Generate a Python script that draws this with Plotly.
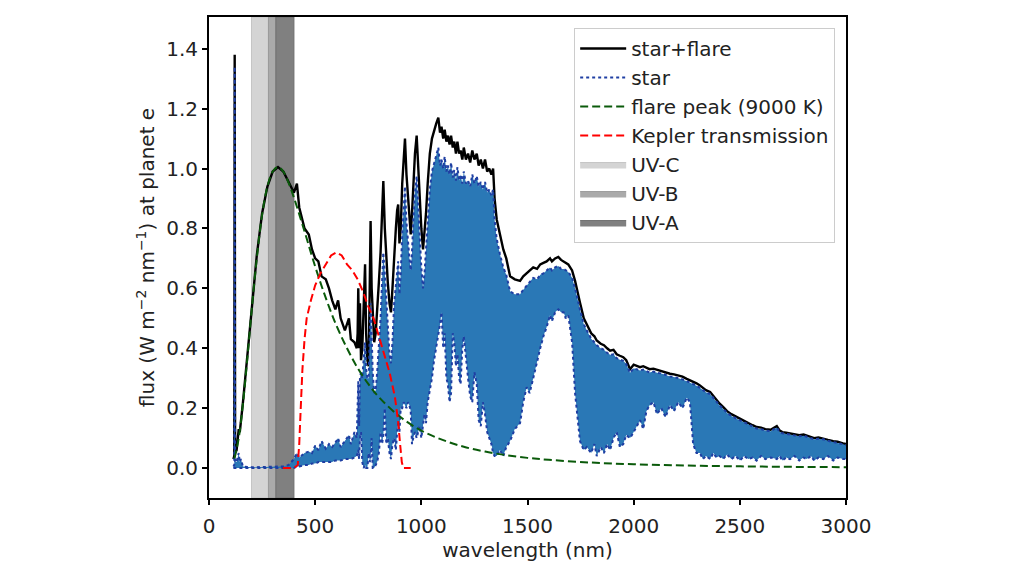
import plotly.graph_objects as go

# ---------------- data ----------------
# Spectrum split in three wavelength segments: UV/visible, TiO/near-IR bands, IR tail.
# For each: wavelength (nm), star+flare, star upper envelope, star lower envelope.

wl_a = [115, 119, 121, 123, 130, 140, 145, 150, 160, 180, 200, 225, 250, 275, 300, 325, 350, 375,
        400, 414, 425, 450, 470, 485, 500, 515, 530, 550, 565, 580, 595, 608, 620, 640, 659, 668]
sf_a = [0.03, 0.04, 1.38, 0.05, 0.06, 0.13, 0.12, 0.16, 0.22, 0.37, 0.53, 0.71, 0.85, 0.94, 0.99, 1.005, 0.99, 0.955,
        0.92, 0.95, 0.87, 0.80, 0.78, 0.73, 0.70, 0.69, 0.64, 0.63, 0.60, 0.56, 0.53, 0.56, 0.50, 0.46, 0.50, 0.43]
hi_a = [0.005, 0.01, 1.34, 0.02, 0.02, 0.05, 0.02, 0.03, 0.005, 0.003, 0.003, 0.003, 0.003, 0.003, 0.004, 0.005, 0.006, 0.01,
        0.03, 0.05, 0.035, 0.05, 0.055, 0.05, 0.075, 0.06, 0.09, 0.065, 0.08, 0.07, 0.085, 0.10, 0.07, 0.09, 0.11, 0.08]
lo_a = [0.0, 0.0, 0.0, 0.0, 0.0, 0.0, 0.0, 0.0, 0.0, 0.0, 0.0, 0.0, 0.0, 0.0, 0.0, 0.0, 0.0, 0.0,
        0.0, 0.005, 0.005, 0.01, 0.01, 0.015, 0.015, 0.02, 0.02, 0.02, 0.02, 0.02, 0.025, 0.025, 0.025, 0.03, 0.03, 0.03]

wl_b = [685, 696, 700, 703, 707, 711, 716, 722, 728, 735, 740, 746, 752, 758, 761, 766, 771, 778, 785, 792,
        800, 808, 815, 821, 828, 835, 842, 850, 857, 864, 872, 880, 886, 891, 897, 903, 910, 917, 923, 930,
        937, 944, 950, 956, 962, 970, 978, 985, 992, 1000, 1008, 1015, 1022, 1030, 1040, 1050, 1060, 1070,
        1080, 1088, 1095, 1103, 1110, 1118, 1125, 1133, 1140, 1148, 1155, 1163, 1170, 1178, 1185, 1193,
        1200, 1210, 1220, 1230, 1240, 1250, 1261, 1270, 1280, 1290, 1300, 1310, 1320, 1330, 1338, 1345,
        1355, 1370, 1386, 1400, 1418, 1440]
sf_b = [0.42, 0.40, 0.45, 0.60, 0.40, 0.55, 0.36, 0.40, 0.55, 0.68, 0.45, 0.36, 0.34, 0.70, 0.825, 0.60, 0.50, 0.42, 0.45, 0.55,
        0.62, 0.72, 0.85, 0.958, 0.80, 0.70, 0.62, 0.55, 0.52, 0.60, 0.72, 0.80, 0.86, 0.88, 0.75, 0.80, 0.95, 1.05, 1.10, 0.98,
        0.90, 0.82, 0.78, 0.85, 0.95, 1.05, 1.11, 1.00, 0.90, 0.80, 0.73, 0.78, 0.85, 0.95, 1.05, 1.10, 1.13, 1.15,
        1.17, 1.12, 1.14, 1.10, 1.13, 1.09, 1.11, 1.08, 1.11, 1.07, 1.09, 1.05, 1.09, 1.05, 1.06, 1.03,
        1.07, 1.03, 1.05, 1.02, 1.06, 1.03, 1.05, 1.01, 1.03, 1.00, 1.03, 0.99, 1.00, 0.98, 1.00, 0.90,
        0.83, 0.78, 0.73, 0.70, 0.64, 0.63]
hi_b = [0.12, 0.10, 0.20, 0.29, 0.14, 0.30, 0.32, 0.30, 0.36, 0.42, 0.33, 0.30, 0.30, 0.50, 0.55, 0.45, 0.32, 0.25, 0.26, 0.32,
        0.40, 0.50, 0.62, 0.72, 0.65, 0.55, 0.45, 0.38, 0.35, 0.42, 0.55, 0.62, 0.67, 0.69, 0.58, 0.65, 0.78, 0.88, 0.94, 0.82,
        0.75, 0.70, 0.66, 0.72, 0.82, 0.92, 0.975, 0.86, 0.77, 0.67, 0.60, 0.65, 0.73, 0.83, 0.93, 0.99, 1.02, 1.04,
        1.07, 1.01, 1.03, 1.00, 1.04, 0.99, 1.01, 0.98, 1.02, 0.97, 0.995, 0.96, 1.005, 0.96, 0.98, 0.95,
        0.99, 0.95, 0.96, 0.94, 0.98, 0.95, 0.975, 0.94, 0.955, 0.93, 0.955, 0.92, 0.93, 0.91, 0.93, 0.83,
        0.765, 0.715, 0.67, 0.645, 0.59, 0.58]
lo_b = [0.035, 0.04, 0.05, 0.06, 0.03, 0.10, 0.12, 0.02, 0.0, 0.01, 0.0, 0.0, 0.05, 0.02, 0.03, 0.10, 0.0, 0.0, 0.01, 0.02,
        0.05, 0.12, 0.08, 0.11, 0.20, 0.08, 0.10, 0.05, 0.03, 0.08, 0.10, 0.06, 0.12, 0.15, 0.12, 0.20, 0.20, 0.22, 0.21, 0.20,
        0.22, 0.21, 0.19, 0.08, 0.10, 0.12, 0.10, 0.12, 0.14, 0.10, 0.15, 0.18, 0.15, 0.22, 0.26, 0.30, 0.36, 0.40,
        0.45, 0.48, 0.52, 0.40, 0.45, 0.30, 0.28, 0.22, 0.25, 0.45, 0.42, 0.34, 0.38, 0.30, 0.28, 0.40,
        0.44, 0.36, 0.30, 0.24, 0.22, 0.32, 0.28, 0.16, 0.14, 0.22, 0.18, 0.12, 0.10, 0.08, 0.05, 0.04,
        0.04, 0.06, 0.04, 0.07, 0.09, 0.13]

wl_c = [1465, 1480, 1496, 1510, 1527, 1545, 1560, 1575, 1590, 1606, 1615, 1630, 1645, 1658, 1670, 1680, 1692,
        1710, 1724, 1747, 1765, 1779, 1800, 1815, 1826, 1845, 1860, 1875, 1889, 1905, 1920, 1935, 1951, 1965,
        1983, 2000, 2015, 2030, 2045, 2060, 2075, 2093, 2110, 2130, 2150, 2171, 2190, 2210, 2230, 2250, 2265,
        2280, 2296, 2312, 2326, 2340, 2360, 2375, 2390, 2405, 2421, 2440, 2460, 2480, 2501, 2520, 2540, 2560,
        2579, 2600, 2620, 2645, 2674, 2688, 2700, 2718, 2736, 2758, 2780, 2800, 2815, 2835, 2850, 2870, 2893,
        2915, 2940, 2960, 2986, 3000]
sf_c = [0.625, 0.64, 0.65, 0.66, 0.67, 0.665, 0.68, 0.685, 0.69, 0.70, 0.69, 0.70, 0.705, 0.695, 0.69, 0.685, 0.68,
        0.66, 0.625, 0.553, 0.50, 0.48, 0.45, 0.44, 0.426, 0.415, 0.41, 0.40, 0.392, 0.395, 0.38, 0.375, 0.37, 0.36,
        0.33, 0.345, 0.34, 0.337, 0.34, 0.335, 0.33, 0.332, 0.328, 0.325, 0.32, 0.315, 0.313, 0.31, 0.305, 0.298, 0.293,
        0.29, 0.283, 0.276, 0.268, 0.26, 0.254, 0.24, 0.23, 0.215, 0.204, 0.19, 0.18, 0.172, 0.165, 0.158, 0.15, 0.143,
        0.137, 0.135, 0.13, 0.128, 0.14, 0.125, 0.12, 0.118, 0.115, 0.112, 0.11, 0.112, 0.108, 0.104, 0.10, 0.102, 0.099,
        0.094, 0.09, 0.088, 0.082, 0.08]
hi_c = [0.58, 0.595, 0.61, 0.62, 0.635, 0.63, 0.645, 0.65, 0.66, 0.67, 0.66, 0.67, 0.675, 0.665, 0.665, 0.66, 0.655,
        0.635, 0.60, 0.53, 0.48, 0.46, 0.432, 0.42, 0.41, 0.40, 0.395, 0.385, 0.378, 0.38, 0.367, 0.362, 0.358, 0.347,
        0.318, 0.333, 0.329, 0.326, 0.329, 0.325, 0.319, 0.322, 0.318, 0.316, 0.311, 0.306, 0.304, 0.301, 0.296, 0.29, 0.285,
        0.282, 0.275, 0.268, 0.26, 0.253, 0.247, 0.233, 0.223, 0.209, 0.198, 0.184, 0.174, 0.166, 0.159, 0.153, 0.145, 0.138,
        0.132, 0.13, 0.125, 0.123, 0.135, 0.12, 0.116, 0.114, 0.111, 0.108, 0.106, 0.108, 0.104, 0.10, 0.096, 0.098, 0.096,
        0.091, 0.087, 0.085, 0.079, 0.077]
lo_c = [0.15, 0.22, 0.27, 0.25, 0.30, 0.36, 0.40, 0.44, 0.47, 0.51, 0.49, 0.52, 0.53, 0.52, 0.52, 0.50, 0.51,
        0.42, 0.25, 0.09, 0.06, 0.07, 0.05, 0.08, 0.04, 0.07, 0.05, 0.08, 0.06, 0.10, 0.12, 0.07, 0.08, 0.11,
        0.10, 0.12, 0.14, 0.16, 0.13, 0.19, 0.21, 0.22, 0.18, 0.20, 0.17, 0.21, 0.19, 0.22, 0.20, 0.235, 0.22,
        0.08, 0.05, 0.05, 0.03, 0.04, 0.03, 0.05, 0.035, 0.04, 0.03, 0.045, 0.03, 0.04, 0.025, 0.04, 0.03, 0.035,
        0.025, 0.04, 0.03, 0.035, 0.03, 0.04, 0.025, 0.035, 0.03, 0.04, 0.025, 0.035, 0.03, 0.04, 0.025, 0.035, 0.03,
        0.04, 0.025, 0.035, 0.03, 0.03]

flare_wl = [120, 140, 160, 180, 200, 225, 250, 275, 300, 325, 350, 375, 400, 450, 500, 550, 600, 650,
            700, 750, 800, 900, 1000, 1100, 1200, 1300, 1400, 1500, 1600, 1800, 2000, 2200, 2400, 2600,
            2800, 3000]
flare_val = [0.032, 0.10, 0.215, 0.362, 0.52, 0.70, 0.845, 0.94, 0.99, 1.005, 0.99, 0.952, 0.903, 0.79, 0.673,
             0.568, 0.476, 0.40, 0.334, 0.281, 0.237, 0.171, 0.125, 0.094, 0.071, 0.055, 0.043, 0.034, 0.0275,
             0.0183, 0.0127, 0.009, 0.0066, 0.0049, 0.0037, 0.0029]

kepler_wl = [348, 400, 418, 425, 432, 440, 450, 460, 480, 500, 525, 550, 575, 600, 625, 650, 675, 700,
             725, 750, 775, 800, 825, 850, 875, 890, 900, 908, 915, 950]
kepler_val = [0.0, 0.0, 0.01, 0.08, 0.2, 0.33, 0.43, 0.5, 0.56, 0.61, 0.65, 0.68, 0.71, 0.72, 0.71, 0.68, 0.66, 0.63,
              0.59, 0.54, 0.5, 0.44, 0.38, 0.32, 0.24, 0.16, 0.08, 0.02, 0.0, 0.0]

uv_names = ["UV-C", "UV-B", "UV-A"]
uv_lo = [200, 280, 315]
uv_hi = [280, 315, 400]
uv_fill = ["#d4d4d4", "#aaaaaa", "#808080"]
uv_edge = ["#c4c4c4", "#9a9a9a", "#6e6e6e"]

Y_MIN, Y_MAX = -0.1, 1.506

for a, b, c, d in [(wl_a, sf_a, hi_a, lo_a), (wl_b, sf_b, hi_b, lo_b), (wl_c, sf_c, hi_c, lo_c)]:
    assert len(a) == len(b) == len(c) == len(d), (len(a), len(b), len(c), len(d))
assert len(flare_wl) == len(flare_val) and len(kepler_wl) == len(kepler_val)

wl = wl_a + wl_b + wl_c
star_flare = sf_a + sf_b + sf_c
star_hi = hi_a + hi_b + hi_c
star_lo = lo_a + lo_b + lo_c

FONT = "DejaVu Sans"
FS = 20
TXT = "#222222"
fig = go.Figure()

# UV bands
for i, name in enumerate(uv_names):
    fig.add_trace(go.Scatter(
        x=[uv_lo[i], uv_lo[i], uv_hi[i], uv_hi[i], uv_lo[i]],
        y=[Y_MIN, Y_MAX, Y_MAX, Y_MIN, Y_MIN],
        fill="toself", fillcolor=uv_fill[i], mode="lines",
        line=dict(color=uv_edge[i], width=1), name=name, legendrank=5 + i,
        hoverinfo="skip"))

# star + flare (black)
fig.add_trace(go.Scatter(x=wl, y=star_flare, mode="lines", name="star+flare",
                         line=dict(color="black", width=2.4), legendrank=1))

# star: lower envelope (legend entry) then upper envelope filled between
fig.add_trace(go.Scatter(x=wl, y=star_lo, mode="lines", name="star",
                         line=dict(color="#1f3fa3", width=2, dash="dot"), legendrank=2))
fig.add_trace(go.Scatter(x=wl, y=star_hi, mode="lines", showlegend=False, fill="tonexty",
                         fillcolor="#2a78b6",
                         line=dict(color="#1f3fa3", width=2, dash="dot")))

# flare peak
fig.add_trace(go.Scatter(x=flare_wl, y=flare_val, mode="lines", name="flare peak (9000 K)",
                         line=dict(color="#0a5a0a", width=2, dash="8px,4px", shape="spline"),
                         legendrank=3))

# Kepler transmission
fig.add_trace(go.Scatter(x=kepler_wl, y=kepler_val, mode="lines", name="Kepler transmission",
                         line=dict(color="red", width=2, dash="8px,4px"), legendrank=4))

axis_common = dict(showline=True, linecolor="black", linewidth=2, mirror=True,
                   ticks="outside", ticklen=5, tickwidth=1.5, tickcolor="black",
                   showgrid=False, zeroline=False,
                   tickfont=dict(family=FONT, size=FS, color=TXT))

fig.update_xaxes(range=[0, 3000], tickvals=[0, 500, 1000, 1500, 2000, 2500, 3000],
                 ticklabelstandoff=4,
                 title=dict(text="wavelength (nm)", font=dict(family=FONT, size=FS, color=TXT),
                            standoff=4),
                 **axis_common)
fig.update_yaxes(range=[Y_MIN, Y_MAX], tickvals=[0, 0.2, 0.4, 0.6, 0.8, 1.0, 1.2, 1.4],
                 tickformat=".1f",
                 title=dict(text="flux (W m<sup>−2</sup> nm<sup>−1</sup>) at planet e",
                            font=dict(family=FONT, size=FS, color=TXT), standoff=6),
                 **axis_common)

# the page body adds an 8px offset; margins compensate so the plot area lands at 209..846 x 15..498
fig.update_layout(
    width=1024, height=577,
    margin=dict(l=201, r=186, t=7, b=87),
    plot_bgcolor="white", paper_bgcolor="white",
    font=dict(family=FONT, size=FS, color=TXT),
    legend=dict(x=0.983, xanchor="right", y=0.977, yanchor="top",
                traceorder="normal",
                bgcolor="rgba(255,255,255,0.85)", bordercolor="#cccccc", borderwidth=1,
                font=dict(family=FONT, size=FS, color=TXT),
                itemwidth=46),
    showlegend=True,
)

fig.write_html("out.html")
